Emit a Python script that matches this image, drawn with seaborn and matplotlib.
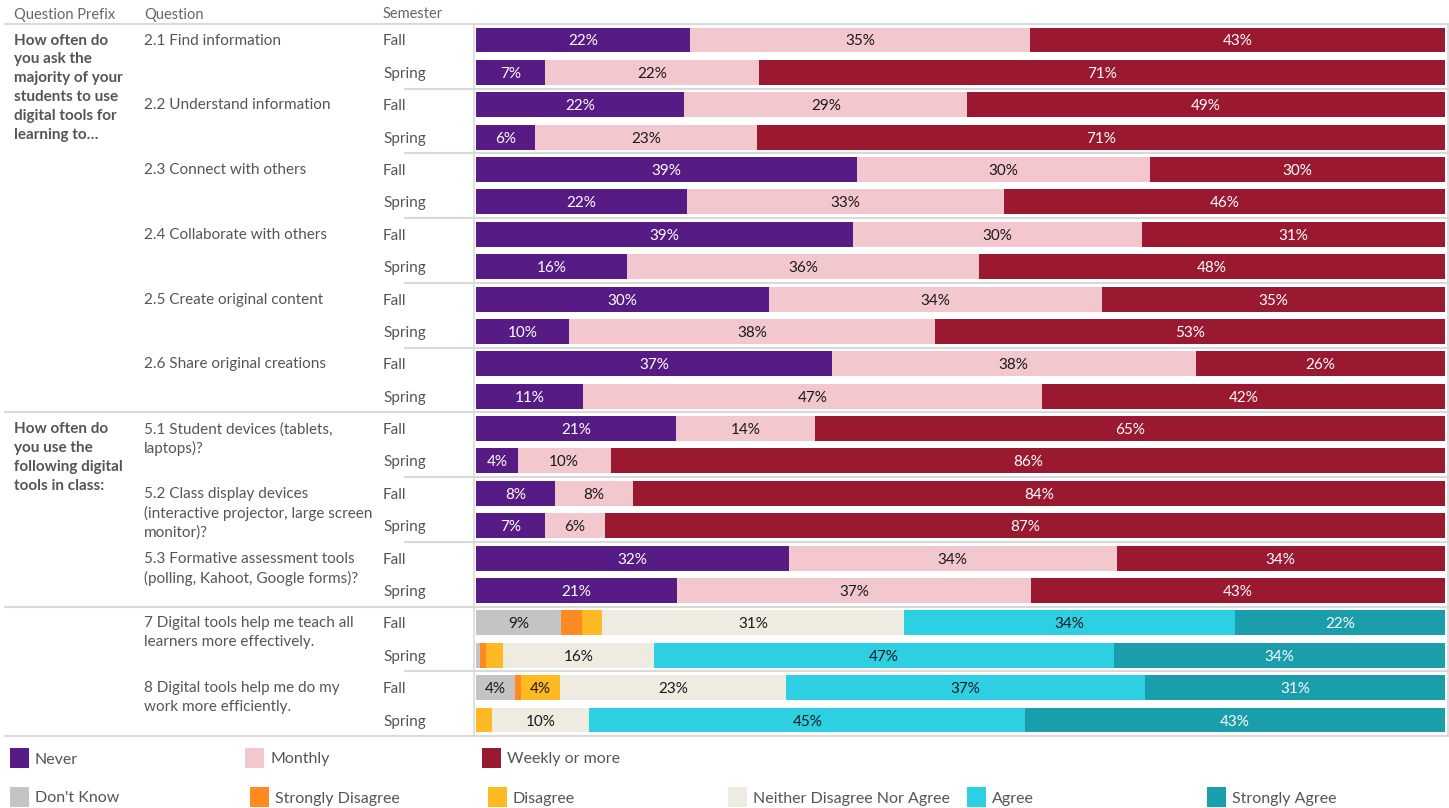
import matplotlib
matplotlib.use("Agg")
import matplotlib.pyplot as plt
import seaborn as sns
import pandas as pd
import numpy as np
from matplotlib.patches import Rectangle
from matplotlib.lines import Line2D
from matplotlib.transforms import blended_transform_factory

# ---------------- data ----------------
prefixes = [
    "How often do\nyou ask the\nmajority of your\nstudents to use\ndigital tools for\nlearning to\u2026",
    "How often do\nyou use the\nfollowing digital\ntools in class:",
    "",
]
questions = [
    "2.1 Find information",
    "2.2 Understand information",
    "2.3 Connect with others",
    "2.4 Collaborate with others",
    "2.5 Create original content",
    "2.6 Share original creations",
    "5.1 Student devices (tablets,\nlaptops)?",
    "5.2 Class display devices\n(interactive projector, large screen\nmonitor)?",
    "5.3 Formative assessment tools\n(polling, Kahoot, Google forms)?",
    "7 Digital tools help me teach all\nlearners more effectively.",
    "8 Digital tools help me do my\nwork more efficiently.",
]
question_prefix = [0, 0, 0, 0, 0, 0, 1, 1, 1, 2, 2]
semesters = ["Fall", "Spring"]

freq_cats = ["Never", "Monthly", "Weekly or more"]
never = [22.1, 7.1, 21.5, 6.1, 39.3, 21.8, 38.9, 15.6, 30.2, 9.6, 36.7, 11.0,
         20.6, 4.3, 8.2, 7.1, 32.3, 20.7]
monthly = [35.1, 22.1, 29.2, 22.9, 30.3, 32.7, 29.8, 36.3, 34.4, 37.8, 37.6, 47.4,
           14.4, 9.6, 8.0, 6.2, 33.8, 36.6]
weekly = [42.8, 70.8, 49.3, 71.0, 30.4, 45.5, 31.3, 48.1, 35.4, 52.6, 25.7, 41.6,
          65.0, 86.1, 83.8, 86.7, 33.9, 42.7]

agree_cats = ["Don't Know", "Strongly Disagree", "Disagree",
              "Neither Disagree Nor Agree", "Agree", "Strongly Agree"]
dont_know = [8.8, 0.4, 4.0, 0.0]
strongly_disagree = [2.1, 0.6, 0.6, 0.0]
disagree = [2.1, 1.8, 4.1, 1.6]
neither = [31.2, 15.6, 23.3, 10.1]
agree = [34.1, 47.4, 37.0, 45.0]
strongly_agree = [21.7, 34.2, 31.0, 43.3]

colors = {
    "Never": "#561B85",
    "Monthly": "#F2C8CE",
    "Weekly or more": "#9A1931",
    "Don't Know": "#C4C4C4",
    "Strongly Disagree": "#FF8A22",
    "Disagree": "#FFB923",
    "Neither Disagree Nor Agree": "#EEEBE0",
    "Agree": "#2DD0E3",
    "Strongly Agree": "#1A9EAC",
}
white_text = {"Never", "Weekly or more", "Strongly Agree"}

# ---------------- build table ----------------
rows = [f"{q}|{s}" for q in range(len(questions)) for s in semesters]
freq_vals = {"Never": never, "Monthly": monthly, "Weekly or more": weekly}
agr_vals = {"Don't Know": dont_know, "Strongly Disagree": strongly_disagree,
            "Disagree": disagree, "Neither Disagree Nor Agree": neither,
            "Agree": agree, "Strongly Agree": strongly_agree}

recs = []
for i, r in enumerate(rows[:18]):
    start = 0.0
    for c in freq_cats:
        v = freq_vals[c][i]
        recs.append(dict(row=r, category=c, value=v, start=start, end=start + v))
        start += v
for i, r in enumerate(rows[18:]):
    start = 0.0
    for c in agree_cats:
        v = agr_vals[c][i]
        recs.append(dict(row=r, category=c, value=v, start=start, end=start + v))
        start += v
df = pd.DataFrame(recs)

# ---------------- figure ----------------
sns.set_theme(style="white")
plt.rcParams["font.family"] = ["Lato", "DejaVu Sans"]

W, H = 1449, 808
fig = plt.figure(figsize=(W / 100, H / 100), dpi=100)
nrows = len(rows)
top_px, bot_px = 23.8, 736.2
left_px, right_px = 476, 1445
ax = fig.add_axes([left_px / W, 1 - bot_px / H, (right_px - left_px) / W, (bot_px - top_px) / H])

all_cats = freq_cats + agree_cats
for c in reversed(all_cats):
    sub = df[df["category"] == c]
    sns.barplot(data=sub, x="end", y="row", order=rows, color=colors[c],
                orient="h", width=0.77, ax=ax, saturation=1, errorbar=None,
                linewidth=0)

ax.set_xlim(0, 100)
ax.set_ylim(nrows - 0.5, -0.5)
ax.axis("off")

# bar labels
for rec in df.itertuples():
    if rec.value >= 3.5:
        yi = rows.index(rec.row)
        ax.text(rec.start + rec.value / 2, yi, f"{rec.value:.0f}%",
                ha="center", va="center_baseline", fontsize=11,
                color="white" if rec.category in white_text else "#1a1a1a")

# ---------------- text columns ----------------
tr = blended_transform_factory(fig.transFigure, ax.transData)
txt_col = "#555555"
for xpx, lab in [(14, "Question Prefix"), (144, "Question"), (383, "Semester")]:
    fig.text(xpx / W, 1 - 13 / H, lab, ha="left", va="center_baseline",
             fontsize=10.5, color="#666666")

prefix_first = {}
for q, p in enumerate(question_prefix):
    prefix_first.setdefault(p, q)
for p, q in prefix_first.items():
    if prefixes[p]:
        fig.text(14 / W, 2 * q - 0.2, prefixes[p], transform=tr, fontsize=11, fontweight="bold",
                 color=txt_col, ha="left", va="top", linespacing=1.45)

for q, text in enumerate(questions):
    fig.text(144 / W, 2 * q - 0.2, text, transform=tr, fontsize=11, color=txt_col,
             ha="left", va="top", linespacing=1.4)
    for s, sem in enumerate(semesters):
        fig.text(383 / W, 2 * q + s, sem, transform=tr, fontsize=11, color=txt_col,
                 ha="left", va="center_baseline")

# separators
line_col = "#D9D9D9"
fig.add_artist(Line2D([5 / W, 1448 / W], [-0.5, -0.5], transform=tr, color=line_col, lw=1.5))
for q in range(len(questions)):
    yb = 2 * q + 1.5
    last_in_prefix = (q == len(questions) - 1) or (question_prefix[q + 1] != question_prefix[q])
    x0 = 5 / W if last_in_prefix else 405 / W
    fig.add_artist(Line2D([x0, 1448 / W], [yb, yb], transform=tr, color=line_col, lw=1.5))
for xv in (474 / W, 1448 / W):
    fig.add_artist(Line2D([xv, xv], [-0.5, nrows - 0.5], transform=tr, color=line_col, lw=1.2))

# ---------------- legend ----------------
leg_rows = [
    (758, [("Never", 10), ("Monthly", 245), ("Weekly or more", 482)]),
    (797, [("Don't Know", 10), ("Strongly Disagree", 250), ("Disagree", 488),
           ("Neither Disagree Nor Agree", 728), ("Agree", 967), ("Strongly Agree", 1207)]),
]
for ypx, items in leg_rows:
    for name, xpx in items:
        fig.add_artist(Rectangle((xpx / W, 1 - (ypx + 10) / H), 19 / W, 20 / H,
                                 transform=fig.transFigure, color=colors[name], lw=0))
        fig.text((xpx + 25) / W, 1 - ypx / H, name, ha="left", va="center_baseline",
                 fontsize=11.5, color="#555555")

fig.savefig("out.png", dpi=100)
